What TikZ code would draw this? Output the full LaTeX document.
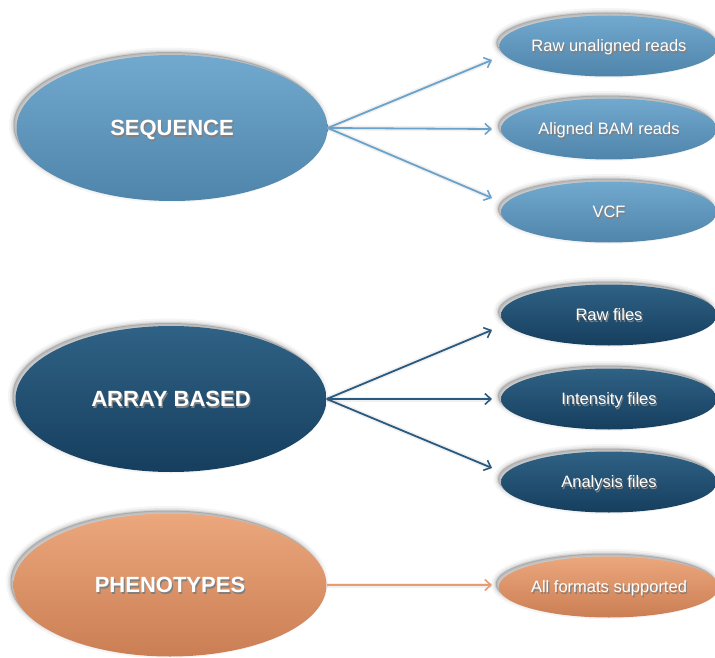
\documentclass[tikz,border=0pt]{standalone}
\usepackage{fontspec}
\setmainfont{Liberation Sans}
\usetikzlibrary{shapes.geometric,arrows.meta}

% white label text with a soft dark shadow behind it
\newcommand\shadowtext[1]{\leavevmode\rlap{\kern1.2pt\raisebox{-1.2pt}{\color{black!50}#1}}#1}

\definecolor{seqtop}{HTML}{72A9CE}
\definecolor{seqbot}{HTML}{4F84AB}
\definecolor{arrtop}{HTML}{2F6285}
\definecolor{arrbot}{HTML}{163E5E}
\definecolor{phetop}{HTML}{ECA77C}
\definecolor{phebot}{HTML}{CB7E54}
\definecolor{seqline}{HTML}{6AA2CB}
\definecolor{arrline}{HTML}{2A5A7F}
\definecolor{pheline}{HTML}{E89C70}

\tikzset{
  x=1pt, y=-1pt,
  blob/.style={ellipse, inner sep=0pt, text=white, text depth=0pt,
    preaction={draw=black, fill=black, opacity=.04, line width=9pt,
      transform canvas={shift={(-3pt,3pt)}}},
    preaction={draw=black, fill=black, opacity=.06, line width=5pt,
      transform canvas={shift={(-3pt,3pt)}}},
    preaction={draw=black, fill=black, opacity=.09, line width=2pt,
      transform canvas={shift={(-3pt,3pt)}}}},
  big/.style={blob, minimum width=311pt, minimum height=146pt,
    text height=15.8pt, font=\fontsize{22}{24}\selectfont\bfseries},
  small/.style={blob, minimum width=216pt, minimum height=61pt,
    text height=11.8pt, font=\fontsize{16.5}{18}\selectfont},
  seqfill/.style={top color=seqtop, bottom color=seqbot},
  arrfill/.style={top color=arrtop, bottom color=arrbot},
  phefill/.style={top color=phetop, bottom color=phebot},
  link/.style={line width=1.8pt, -{Straight Barb[length=6pt,width=11pt,line width=1.6pt]}},
  linkshade/.style={line width=5pt, draw=black, opacity=.06, shift={(-1.5pt,-2pt)}},
}

\begin{document}
\begin{tikzpicture}
\useasboundingbox (0,0) rectangle (715,658);

% source categories
\node[big, seqfill] (seq) at (172,128) {\shadowtext{SEQUENCE}};
\node[big, arrfill] (arr) at (171,399) {\shadowtext{ARRAY BASED}};
\node[big, phefill, minimum width=313pt, minimum height=143pt] (phe) at (170,585) {\shadowtext{PHENOTYPES}};

% data formats
\node[small, seqfill] (s1) at (609,46)  {\shadowtext{Raw unaligned reads}};
\node[small, seqfill] (s2) at (609,129) {\shadowtext{Aligned BAM reads}};
\node[small, seqfill] (s3) at (609,212) {\shadowtext{VCF}};
\node[small, arrfill] (a1) at (609,315) {\shadowtext{Raw files}};
\node[small, arrfill] (a2) at (609,399) {\shadowtext{Intensity files}};
\node[small, arrfill] (a3) at (609,482) {\shadowtext{Analysis files}};
\node[small, phefill] (p1) at (609,587) {\shadowtext{All formats supported}};

% arrow end points just left of each format
\coordinate (ts1) at (492,60);
\coordinate (ts2) at (492,129);
\coordinate (ts3) at (492,198);
\coordinate (ta1) at (492,330);
\coordinate (ta2) at (492,399);
\coordinate (ta3) at (492,468);
\coordinate (tp1) at (492,585);

% faint shadows under the connectors
\foreach \t in {ts1,ts2,ts3} \draw[linkshade] (seq.east) -- (\t);
\foreach \t in {ta1,ta2,ta3} \draw[linkshade] (arr.east) -- (\t);
\draw[linkshade] (phe.east) -- (tp1);

% connectors
\foreach \t in {ts1,ts2,ts3} \draw[link, seqline] (seq.east) -- (\t);
\foreach \t in {ta1,ta2,ta3} \draw[link, arrline] (arr.east) -- (\t);
\draw[link, pheline] (phe.east) -- (tp1);
\end{tikzpicture}
\end{document}
